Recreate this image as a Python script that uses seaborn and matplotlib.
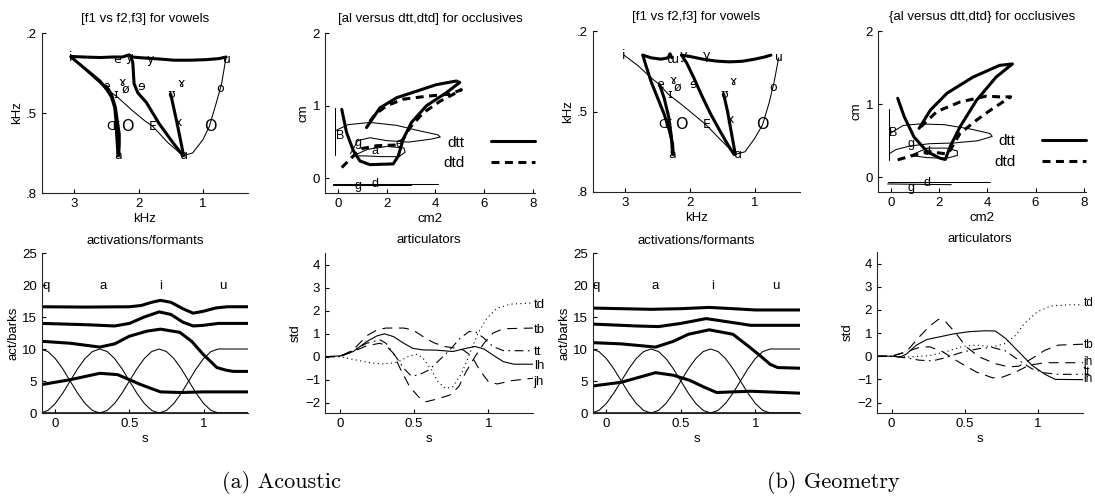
import matplotlib
matplotlib.use("Agg")
import matplotlib.pyplot as plt
import seaborn as sns

sns.set_theme(style="ticks")
plt.rcParams['font.family'] = ['Liberation Sans', 'DejaVu Sans']
plt.rcParams.update({
    'font.size': 9.5, 'axes.titlesize': 9.5, 'axes.labelsize': 9.5,
    'xtick.labelsize': 9.5, 'ytick.labelsize': 9.5,
    'axes.linewidth': 0.8, 'text.color': 'black',
    'axes.labelcolor': 'black', 'xtick.color': 'black', 'ytick.color': 'black',
})

# ---------------- data: vowel panels ----------------
VA_LABELS = ['i', 'e', 'y', 'y', 'u', 'ɤ', 'ɤ', 'ø', 'e', 'ɘ', 'ɪ', 'ʊ', 'o', 'x', 'Œ', 'O', 'E', 'O', 'a', 'ɑ']
VA_LX = [3.05, 2.34, 2.14, 1.81, 0.62, 1.34, 2.26, 2.20, 2.51, 1.96, 2.35, 1.49, 0.74, 1.39, 2.40, 2.18, 1.78, 0.89, 2.32, 1.30]
VA_LY = [0.29, 0.30, 0.29, 0.30, 0.30, 0.39, 0.385, 0.41, 0.40, 0.40, 0.43, 0.43, 0.41, 0.535, 0.55, 0.55, 0.55, 0.55, 0.66, 0.66]

VA_TOP_X = [3.05, 2.85, 2.6, 2.4, 2.25, 2.15, 2.1, 1.95, 1.7, 1.45, 1.2, 0.95, 0.75, 0.64]
VA_TOP_Y = [0.288, 0.29, 0.292, 0.29, 0.29, 0.282, 0.29, 0.293, 0.297, 0.302, 0.302, 0.300, 0.296, 0.29]
VA_IA_X = [3.05, 2.9, 2.75, 2.6, 2.5, 2.42, 2.37, 2.35, 2.34, 2.33, 2.32]
VA_IA_Y = [0.29, 0.32, 0.35, 0.38, 0.41, 0.44, 0.48, 0.53, 0.58, 0.62, 0.66]
VA_EA_X = [2.5, 2.42, 2.36, 2.33, 2.30, 2.30, 2.31]
VA_EA_Y = [0.40, 0.43, 0.48, 0.53, 0.58, 0.62, 0.66]
VA_YA_X = [2.12, 2.09, 2.08, 2.07, 2.01, 1.88, 1.68, 1.47, 1.31]
VA_YA_Y = [0.29, 0.31, 0.35, 0.39, 0.425, 0.46, 0.54, 0.61, 0.66]
VA_UA_X = [1.50, 1.40, 1.30]
VA_UA_Y = [0.43, 0.54, 0.66]
VA_THIN_X = [3.05, 2.8, 2.55, 2.33, 2.1, 1.9, 1.78, 1.55, 1.31, 1.16, 1.0, 0.90, 0.79, 0.71, 0.64]
VA_THIN_Y = [0.29, 0.345, 0.40, 0.44, 0.49, 0.53, 0.55, 0.61, 0.66, 0.65, 0.60, 0.55, 0.46, 0.39, 0.29]

VB_LABELS = ['i', 'ɯ', 'y', 'γ', 'u', 'ɤ', 'ɤ', 'e', 'ø', 'ɘ', 'ɪ', 'ʊ', 'o', 'x', 'Œ', 'O', 'E', 'O', 'a', 'ɑ']
VB_LX = [3.02, 2.26, 2.10, 1.74, 0.62, 1.33, 2.26, 2.47, 2.19, 1.95, 2.32, 1.48, 0.72, 1.37, 2.39, 2.14, 1.75, 0.88, 2.27, 1.27]
VB_LY = [0.29, 0.305, 0.29, 0.29, 0.30, 0.39, 0.385, 0.40, 0.41, 0.40, 0.435, 0.435, 0.41, 0.53, 0.55, 0.55, 0.55, 0.55, 0.66, 0.66]

VB_TOP1_X = [2.73, 2.6, 2.45, 2.34, 2.31, 2.28]
VB_TOP1_Y = [0.29, 0.30, 0.305, 0.30, 0.285, 0.30]
VB_TOP2_X = [2.13, 2.0, 1.8, 1.6, 1.4, 1.2, 1.0, 0.85, 0.75]
VB_TOP2_Y = [0.29, 0.295, 0.305, 0.312, 0.315, 0.313, 0.305, 0.297, 0.29]
VB_D1_X = [2.73, 2.68, 2.60, 2.50, 2.40, 2.32, 2.27, 2.26]
VB_D1_Y = [0.29, 0.33, 0.39, 0.45, 0.51, 0.57, 0.62, 0.66]
VB_D2_X = [2.47, 2.40, 2.33, 2.29, 2.27]
VB_D2_Y = [0.40, 0.45, 0.52, 0.59, 0.66]
VB_D3_X = [2.13, 2.05, 1.95, 1.82, 1.68, 1.52, 1.40, 1.32]
VB_D3_Y = [0.29, 0.32, 0.37, 0.44, 0.51, 0.58, 0.63, 0.66]
VB_UA_X = [1.48, 1.42, 1.36, 1.30]
VB_UA_Y = [0.435, 0.50, 0.58, 0.66]
VB_THIN_X = [3.02, 2.8, 2.6, 2.47, 2.34, 2.1, 1.9, 1.75, 1.55, 1.30, 1.15, 1.0, 0.88, 0.78, 0.70, 0.63]
VB_THIN_Y = [0.29, 0.33, 0.375, 0.40, 0.435, 0.48, 0.52, 0.55, 0.60, 0.66, 0.65, 0.60, 0.55, 0.47, 0.39, 0.30]

V_XTICKS = [3, 2, 1]
V_YTICKS = [0.2, 0.5, 0.8]
V_YTICKLABELS = ['.2', '.5', '.8']

# ---------------- data: occlusive panels ----------------
OA_DTT_X = [0.14, 0.34, 0.62, 0.89, 1.30, 2.26, 2.47, 2.67, 3.01, 3.63, 4.45, 5.0, 4.86, 4.04, 3.22, 2.4, 1.71, 1.16]
OA_DTT_Y = [0.95, 0.63, 0.38, 0.24, 0.19, 0.20, 0.31, 0.54, 0.77, 1.0, 1.18, 1.32, 1.34, 1.29, 1.2, 1.11, 0.97, 0.70]
OA_DTD_X = [0.14, 0.62, 0.96, 1.58, 2.4, 2.67, 2.95, 3.49, 4.18, 4.86, 5.07, 4.59, 3.63, 2.67, 1.99, 1.51, 1.16]
OA_DTD_Y = [0.15, 0.31, 0.41, 0.45, 0.46, 0.54, 0.70, 0.9, 1.06, 1.18, 1.22, 1.16, 1.13, 1.09, 1.0, 0.88, 0.72]
OA_LOOP1_X = [-0.1, 0.4, 1.3, 2.4, 3.4, 4.1, 4.2, 3.8, 2.9, 2.0, 1.3, 0.8, 0.5]
OA_LOOP1_Y = [0.66, 0.74, 0.77, 0.73, 0.65, 0.60, 0.57, 0.54, 0.50, 0.52, 0.56, 0.52, 0.34]
OA_LOOP2_X = [0.6, 1.2, 2.0, 2.7, 2.75, 2.5, 1.8, 1.1, 0.6]
OA_LOOP2_Y = [0.31, 0.40, 0.44, 0.42, 0.36, 0.30, 0.30, 0.31, 0.31]
OA_VERT_X = [-0.14, -0.14]
OA_VERT_Y = [0.32, 0.97]
OA_BASE1_X = [-0.2, 4.1]
OA_BASE1_Y = [-0.07, -0.07]
OA_BASE2_X = [-0.2, 3.0]
OA_BASE2_Y = [-0.09, -0.09]
OA_LABELS = ['B', 'g', 'a', 'e', 'g', 'd']
OA_LX = [0.07, 0.82, 1.5, 2.5, 0.82, 1.5]
OA_LY = [0.58, 0.49, 0.38, 0.48, -0.10, -0.08]

OB_DTT_X = [0.27, 0.54, 0.95, 1.5, 2.04, 2.25, 2.45, 2.86, 3.54, 4.36, 5.04, 4.5, 3.4, 2.32, 1.63, 1.16]
OB_DTT_Y = [1.08, 0.83, 0.55, 0.35, 0.26, 0.245, 0.42, 0.69, 1.05, 1.37, 1.55, 1.53, 1.37, 1.15, 0.92, 0.67]
OB_DTD_X = [0.27, 1.23, 1.63, 2.3, 2.45, 2.86, 3.54, 4.22, 4.97, 4.5, 3.95, 2.86, 1.9, 1.23]
OB_DTD_Y = [0.24, 0.33, 0.35, 0.32, 0.37, 0.6, 0.78, 0.94, 1.1, 1.1, 1.11, 1.03, 0.9, 0.69]
OB_LOOP1_X = [-0.05, 0.5, 1.2, 2.2, 3.3, 4.1, 4.2, 3.6, 2.6, 1.6, 0.8, 0.2, -0.05]
OB_LOOP1_Y = [0.6, 0.71, 0.73, 0.72, 0.66, 0.60, 0.56, 0.50, 0.47, 0.46, 0.43, 0.38, 0.33]
OB_LOOP2_X = [0.8, 1.5, 2.3, 2.75, 2.75, 2.3, 1.5, 1.0, 0.8]
OB_LOOP2_Y = [0.30, 0.40, 0.40, 0.36, 0.30, 0.26, 0.27, 0.29, 0.30]
OB_VERT_X = [-0.1, -0.1]
OB_VERT_Y = [0.24, 0.94]
OB_BASE1_X = [-0.15, 4.1]
OB_BASE1_Y = [-0.07, -0.07]
OB_BASE2_X = [-0.15, 2.5]
OB_BASE2_Y = [-0.09, -0.10]
OB_LABELS = ['B', 'g', 'd', 'g', 'd']
OB_LX = [0.07, 0.82, 1.5, 0.82, 1.5]
OB_LY = [0.6, 0.46, 0.35, -0.15, -0.08]

O_XTICKS = [0, 2, 4, 6, 8]
O_YTICKS = [0, 1, 2]

# ---------------- data: activations / formants ----------------
S = [-0.1, -0.05, 0.0, 0.05, 0.1, 0.15, 0.2, 0.25, 0.3, 0.35, 0.4, 0.45, 0.5, 0.55, 0.6,
     0.65, 0.7, 0.75, 0.8, 0.85, 0.9, 0.95, 1.0, 1.05, 1.1, 1.15, 1.2, 1.25, 1.3]
ACT_Q = [10, 9.6, 8.5, 6.9, 5.0, 3.1, 1.5, 0.4, 0, 0, 0, 0, 0, 0, 0, 0, 0, 0, 0, 0, 0, 0, 0, 0, 0, 0, 0, 0, 0]
ACT_A = [0, 0.4, 1.5, 3.1, 5.0, 6.9, 8.5, 9.6, 10, 9.6, 8.5, 6.9, 5.0, 3.1, 1.5, 0.4, 0, 0, 0, 0, 0, 0, 0, 0, 0, 0, 0, 0, 0]
ACT_I = [0, 0, 0, 0, 0, 0, 0, 0, 0, 0.4, 1.5, 3.1, 5.0, 6.9, 8.5, 9.6, 10, 9.6, 8.5, 6.9, 5.0, 3.1, 1.5, 0.4, 0, 0, 0, 0, 0]
ACT_U = [0, 0, 0, 0, 0, 0, 0, 0, 0, 0, 0, 0, 0, 0, 0, 0, 0, 0.4, 1.5, 3.1, 5.0, 6.9, 8.5, 9.6, 10, 10, 10, 10, 10]
TARGET_LABELS = ['q', 'a', 'i', 'u']
TA_LX = [-0.06, 0.32, 0.71, 1.13]
TB_LX = [-0.07, 0.325, 0.716, 1.14]

FA4_S = [-0.09, 0.2, 0.5, 0.58, 0.65, 0.71, 0.78, 0.86, 0.93, 1.0, 1.08, 1.16, 1.3]
FA4_V = [16.6, 16.55, 16.6, 16.8, 17.3, 17.6, 17.3, 16.3, 15.6, 15.9, 16.4, 16.6, 16.6]
FA3_S = [-0.09, 0.2, 0.4, 0.5, 0.6, 0.70, 0.78, 0.86, 0.93, 1.0, 1.1, 1.3]
FA3_V = [14.0, 13.8, 13.6, 14.0, 15.0, 15.8, 15.4, 14.2, 13.6, 13.7, 14.0, 14.0]
FA2_S = [-0.09, 0.1, 0.3, 0.4, 0.5, 0.62, 0.71, 0.84, 0.92, 1.0, 1.05, 1.09, 1.15, 1.2, 1.3]
FA2_V = [11.2, 10.9, 10.3, 10.8, 12.0, 12.8, 13.1, 12.6, 11.2, 9.1, 8.0, 7.1, 6.7, 6.5, 6.5]
FA1_S = [-0.09, 0.1, 0.3, 0.42, 0.5, 0.57, 0.65, 0.71, 0.85, 1.0, 1.3]
FA1_V = [4.45, 5.2, 6.2, 6.0, 5.2, 4.5, 3.8, 3.3, 3.2, 3.3, 3.3]

FB4_S = [-0.1, 0.3, 0.5, 0.69, 0.85, 1.0, 1.3]
FB4_V = [16.4, 16.2, 16.3, 16.5, 16.3, 16.1, 16.1]
FB3_S = [-0.1, 0.2, 0.35, 0.5, 0.67, 0.8, 0.97, 1.3]
FB3_V = [13.9, 13.6, 13.5, 14.0, 14.75, 14.3, 13.7, 13.7]
FB2_S = [-0.1, 0.1, 0.33, 0.45, 0.55, 0.69, 0.85, 0.95, 1.03, 1.1, 1.15, 1.3]
FB2_V = [11.0, 10.8, 10.3, 11.2, 12.3, 13.0, 12.3, 10.5, 9.0, 7.6, 7.1, 7.0]
FB1_S = [-0.1, 0.1, 0.33, 0.45, 0.56, 0.66, 0.74, 0.85, 0.97, 1.3]
FB1_V = [4.2, 4.8, 6.3, 5.9, 5.1, 4.0, 3.2, 3.3, 3.4, 3.1]

A_XTICKS = [0, 0.5, 1]
A_XTICKLABELS = ['0', '0.5', '1']
A_YTICKS = [0, 5, 10, 15, 20, 25]

# ---------------- data: articulators ----------------
RA_LH_S = [-0.10, 0.0, 0.09, 0.18, 0.25, 0.30, 0.36, 0.43, 0.49, 0.56, 0.65, 0.76, 0.85, 0.91, 0.97, 1.03, 1.10, 1.17, 1.30]
RA_LH_V = [0, 0.03, 0.22, 0.65, 0.9, 0.99, 0.87, 0.58, 0.36, 0.29, 0.28, 0.22, 0.36, 0.44, 0.33, 0.07, -0.22, -0.33, -0.33]
RA_TD_S = [-0.10, 0.0, 0.11, 0.20, 0.29, 0.38, 0.47, 0.52, 0.56, 0.61, 0.66, 0.71, 0.76, 0.82, 0.88, 0.93, 0.99, 1.06, 1.15, 1.30]
RA_TD_V = [0, 0, -0.15, -0.26, -0.32, -0.26, 0.03, 0.10, -0.07, -0.51, -1.09, -1.38, -1.31, -0.73, 0.22, 1.02, 1.67, 2.11, 2.28, 2.33]
RA_TB_S = [-0.10, 0.0, 0.09, 0.18, 0.27, 0.31, 0.36, 0.40, 0.47, 0.54, 0.58, 0.65, 0.74, 0.80, 0.85, 0.91, 0.97, 1.03, 1.10, 1.30]
RA_TB_V = [0, 0, 0.22, 0.47, 0.58, 0.47, 0.15, -0.44, -1.31, -1.82, -1.96, -1.85, -1.67, -1.31, -0.65, 0.0, 0.58, 1.02, 1.21, 1.24]
RA_JH_S = [-0.10, 0.0, 0.09, 0.18, 0.25, 0.31, 0.43, 0.49, 0.56, 0.63, 0.70, 0.76, 0.83, 0.89, 0.94, 1.0, 1.06, 1.15, 1.30]
RA_JH_V = [0, 0, 0.29, 0.9, 1.16, 1.24, 1.24, 1.16, 0.87, 0.61, 0.44, 0.39, 0.29, 0.0, -0.58, -1.09, -1.19, -1.05, -0.94]
RA_TT_S = [-0.10, 0.0, 0.09, 0.18, 0.27, 0.31, 0.36, 0.43, 0.48, 0.53, 0.60, 0.67, 0.74, 0.81, 0.87, 0.91, 0.97, 1.03, 1.10, 1.30]
RA_TT_V = [0, 0, 0.26, 0.58, 0.73, 0.58, 0.15, -0.51, -0.84, -0.80, -0.58, -0.15, 0.29, 0.80, 1.09, 1.09, 0.80, 0.44, 0.26, 0.25]
RA_NAMES = ['td', 'tb', 'tt', 'lh', 'jh']
RA_NAME_Y = [2.25, 1.16, 0.22, -0.39, -1.09]

RB_LH_S = [-0.10, 0.0, 0.06, 0.10, 0.17, 0.24, 0.33, 0.42, 0.53, 0.64, 0.71, 0.78, 0.87, 0.96, 1.05, 1.12, 1.31]
RB_LH_V = [0, 0, -0.03, 0.09, 0.48, 0.72, 0.84, 0.96, 1.06, 1.10, 1.09, 0.77, 0.19, -0.39, -0.78, -1.0, -1.01]
RB_TD_S = [-0.10, 0.0, 0.12, 0.26, 0.37, 0.49, 0.58, 0.69, 0.78, 0.85, 0.91, 1.0, 1.09, 1.21, 1.31]
RB_TD_V = [0, 0, -0.03, 0.03, 0.19, 0.43, 0.48, 0.41, 0.55, 0.91, 1.42, 1.93, 2.17, 2.22, 2.22]
RB_TB_S = [-0.10, 0.0, 0.10, 0.19, 0.26, 0.32, 0.37, 0.44, 0.51, 0.60, 0.71, 0.80, 0.87, 0.96, 1.05, 1.14, 1.31]
RB_TB_V = [0, 0, 0.19, 0.84, 1.30, 1.59, 1.49, 0.99, 0.41, -0.03, -0.32, -0.46, -0.43, -0.10, 0.26, 0.48, 0.52]
RB_JH_S = [-0.10, 0.0, 0.10, 0.19, 0.26, 0.35, 0.46, 0.58, 0.69, 0.76, 0.85, 0.94, 1.05, 1.31]
RB_JH_V = [0, 0, 0.19, 0.38, 0.41, 0.19, -0.25, -0.68, -0.93, -0.90, -0.68, -0.39, -0.28, -0.28]
RB_TT_S = [-0.10, 0.0, 0.10, 0.19, 0.28, 0.37, 0.49, 0.60, 0.69, 0.78, 0.87, 0.96, 1.05, 1.14, 1.31]
RB_TT_V = [0, 0, -0.07, -0.17, -0.20, -0.06, 0.19, 0.33, 0.38, 0.23, -0.17, -0.54, -0.72, -0.78, -0.78]
RB_NAMES = ['td', 'tb', 'jh', 'tt', 'lh']
RB_NAME_Y = [2.30, 0.48, -0.26, -0.66, -1.0]

R_YTICKS = [-2, -1, 0, 1, 2, 3, 4]

CAPTIONS = ['(a) Acoustic', '(b) Geometry']

# ---------------- styles ----------------
THICK = 2.2
THIN = 0.75
DASH_THICK = (0, (2.6, 1.8))
DASH_THIN = (0, (9, 6))
DOT_THIN = (0, (1, 3))
DASHDOT_THIN = (0, (8, 4, 1.5, 4))

W, H = 1095, 496
fig = plt.figure(figsize=(W / 100, H / 100), dpi=100)
fig.patch.set_facecolor('white')


def add_ax(left, top, right, bottom):
    ax = fig.add_axes([left / W, 1 - bottom / H, (right - left) / W, (bottom - top) / H])
    ax.set_facecolor('white')
    sns.despine(ax=ax)
    ax.tick_params(direction='in', length=3, width=0.8, pad=3.5)
    return ax


def draw(ax, x, y, lw, ls='-', label=None):
    sns.lineplot(x=x, y=y, sort=False, estimator=None, color='black',
                 linewidth=lw, linestyle=ls, ax=ax, label=label, legend=False)


def vowel_panel(ax, thick, thin, labels, lx, ly):
    for xs, ys in thick:
        draw(ax, xs, ys, THICK)
    draw(ax, thin[0], thin[1], THIN)
    for t, x, y in zip(labels, lx, ly):
        big = t in ('O',)
        ax.text(x, y, t, fontsize=11.5 if big else 9, ha='center', va='center',
                family=['DejaVu Sans'])
    ax.set_xlim(3.5, 0.3)
    ax.set_ylim(0.8, 0.2)
    ax.set_xticks(V_XTICKS)
    ax.set_yticks(V_YTICKS)
    ax.set_yticklabels(V_YTICKLABELS)
    ax.set_title('[f1 vs f2,f3] for vowels', pad=8)
    ax.set_xlabel('kHz', labelpad=2)
    ax.set_ylabel('kHz', labelpad=2)


def occl_panel(ax, dtt, dtd, thins, labels, lx, ly, title):
    draw(ax, dtt[0], dtt[1], THICK, '-', 'dtt')
    draw(ax, dtd[0], dtd[1], THICK, DASH_THICK, 'dtd')
    for xs, ys in thins:
        draw(ax, xs, ys, THIN)
    for t, x, y in zip(labels, lx, ly):
        ax.text(x, y, t, fontsize=9, ha='center', va='center')
    ax.set_xlim(-0.55, 8.1)
    ax.set_ylim(-0.2, 2.0)
    ax.set_xticks(O_XTICKS)
    ax.set_yticks(O_YTICKS)
    ax.set_title(title, pad=8)
    ax.set_xlabel('cm2', labelpad=2)
    ax.set_ylabel('cm', labelpad=2)
    h, l = ax.get_legend_handles_labels()
    ax.legend(h, l, loc='center right', bbox_to_anchor=(1.0, 0.25), frameon=False,
              markerfirst=False, handlelength=2.9, handletextpad=1.7,
              labelspacing=0.45, borderpad=0, borderaxespad=0)


def act_panel(ax, formants, tlx):
    for a in (ACT_Q, ACT_A, ACT_I, ACT_U):
        draw(ax, S, a, THIN)
    for xs, ys in formants:
        draw(ax, xs, ys, THICK)
    for t, x in zip(TARGET_LABELS, tlx):
        ax.text(x, 19.8, t, ha='center', va='center')
    ax.set_xlim(-0.09, 1.3)
    ax.set_ylim(0, 25)
    ax.set_xticks(A_XTICKS)
    ax.set_xticklabels(A_XTICKLABELS)
    ax.set_yticks(A_YTICKS)
    ax.set_title('activations/formants', pad=6.5)
    ax.set_xlabel('s', labelpad=2)
    ax.set_ylabel('act/barks', labelpad=2)


def art_panel(ax, curves, names, name_y, xmax, label_size):
    styles = {'lh': '-', 'td': DOT_THIN, 'tb': DASH_THIN, 'jh': DASH_THIN, 'tt': DASHDOT_THIN}
    for key, (xs, ys) in curves.items():
        draw(ax, xs, ys, 0.8, styles[key])
    for t, y in zip(names, name_y):
        ax.text(xmax + 0.005, y, t, ha='left', va='center', clip_on=False, fontsize=label_size)
    ax.set_xlim(-0.1, xmax)
    ax.set_ylim(-2.45, 4.5)
    ax.set_xticks(A_XTICKS)
    ax.set_xticklabels(A_XTICKLABELS)
    ax.set_yticks(R_YTICKS)
    ax.set_title('articulators', pad=7)
    ax.set_xlabel('s', labelpad=2)
    ax.set_ylabel('std', labelpad=2)


# ---- (a) ----
ax1 = add_ax(42, 33, 248, 193)
vowel_panel(ax1, [(VA_TOP_X, VA_TOP_Y), (VA_IA_X, VA_IA_Y), (VA_EA_X, VA_EA_Y),
                  (VA_YA_X, VA_YA_Y), (VA_UA_X, VA_UA_Y)],
            (VA_THIN_X, VA_THIN_Y), VA_LABELS, VA_LX, VA_LY)

ax2 = add_ax(325, 33, 535, 193)
occl_panel(ax2, (OA_DTT_X, OA_DTT_Y), (OA_DTD_X, OA_DTD_Y),
           [(OA_LOOP1_X, OA_LOOP1_Y), (OA_LOOP2_X, OA_LOOP2_Y), (OA_VERT_X, OA_VERT_Y),
            (OA_BASE1_X, OA_BASE1_Y), (OA_BASE2_X, OA_BASE2_Y)],
           OA_LABELS, OA_LX, OA_LY, '[al versus dtt,dtd] for occlusives')

ax5 = add_ax(42, 253, 248, 413)
act_panel(ax5, [(FA4_S, FA4_V), (FA3_S, FA3_V), (FA2_S, FA2_V), (FA1_S, FA1_V)], TA_LX)

ax6 = add_ax(325, 253, 533, 413)
art_panel(ax6, {'lh': (RA_LH_S, RA_LH_V), 'td': (RA_TD_S, RA_TD_V), 'tb': (RA_TB_S, RA_TB_V),
                'jh': (RA_JH_S, RA_JH_V), 'tt': (RA_TT_S, RA_TT_V)},
          RA_NAMES, RA_NAME_Y, 1.30, 9.5)

# ---- (b) ----
ax3 = add_ax(593, 31, 800, 192)
vowel_panel(ax3, [(VB_TOP1_X, VB_TOP1_Y), (VB_TOP2_X, VB_TOP2_Y), (VB_D1_X, VB_D1_Y),
                  (VB_D2_X, VB_D2_Y), (VB_D3_X, VB_D3_Y), (VB_UA_X, VB_UA_Y)],
            (VB_THIN_X, VB_THIN_Y), VB_LABELS, VB_LX, VB_LY)

ax4 = add_ax(878, 31, 1086, 192)
occl_panel(ax4, (OB_DTT_X, OB_DTT_Y), (OB_DTD_X, OB_DTD_Y),
           [(OB_LOOP1_X, OB_LOOP1_Y), (OB_LOOP2_X, OB_LOOP2_Y), (OB_VERT_X, OB_VERT_Y),
            (OB_BASE1_X, OB_BASE1_Y), (OB_BASE2_X, OB_BASE2_Y)],
           OB_LABELS, OB_LX, OB_LY, '{al versus dtt,dtd} for occlusives')

ax7 = add_ax(593, 253, 800, 413)
act_panel(ax7, [(FB4_S, FB4_V), (FB3_S, FB3_V), (FB2_S, FB2_V), (FB1_S, FB1_V)], TB_LX)

ax8 = add_ax(877, 252, 1083, 413)
art_panel(ax8, {'lh': (RB_LH_S, RB_LH_V), 'td': (RB_TD_S, RB_TD_V), 'tb': (RB_TB_S, RB_TB_V),
                'jh': (RB_JH_S, RB_JH_V), 'tt': (RB_TT_S, RB_TT_V)},
          RB_NAMES, RB_NAME_Y, 1.31, 8.5)

# captions
fig.text(281 / W, 1 - 482 / H, CAPTIONS[0], ha='center', va='center', fontsize=16,
         family=['cmr10', 'DejaVu Serif'])
fig.text(833 / W, 1 - 482 / H, CAPTIONS[1], ha='center', va='center', fontsize=16,
         family=['cmr10', 'DejaVu Serif'])

fig.savefig('out.png', dpi=100, facecolor='white')
